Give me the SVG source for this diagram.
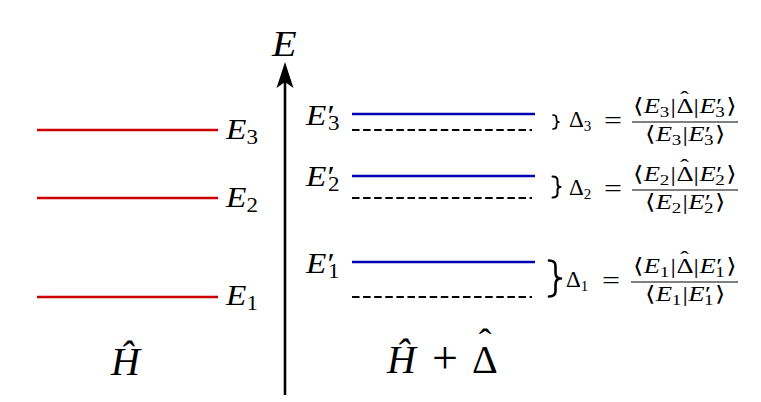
<svg xmlns="http://www.w3.org/2000/svg" width="761" height="402" viewBox="0 0 761 402">
<style>
text{font-family:"Liberation Serif","DejaVu Serif",serif;fill:#000}
.i{font-style:italic}
.big{font-size:29px}
.sb{font-size:20px}
.f{font-size:21px}
.d{font-size:23px}
.s{font-size:15px}
.eq{font-size:24px}
.hat{font-size:21px;text-anchor:middle}
.red{stroke:#cc0000;stroke-width:2.6;fill:none}
.blue{stroke:#0000b4;stroke-width:2.6;fill:none}
.dash{stroke:#000;stroke-width:1.8;stroke-dasharray:7.5 3.6;fill:none}
.bar{stroke:#000;stroke-width:1}
.brace{fill:none;stroke:#000;stroke-linecap:round;stroke-linejoin:round}
</style>
<rect width="761" height="402" fill="#fff"/>
<g id="connectors">
<line x1="285" y1="395" x2="285" y2="78" stroke="#000" stroke-width="2.6"/>
<path d="M285,62 L293.5,88 L285,82 L276.5,88 Z" fill="#000"/>
</g>
<g id="axis-label"><text class="i" transform="translate(272,56) scale(1.12,1)" font-size="36">E</text></g>
<g id="H-levels">
<g id="E3"><line class="red" x1="37" y1="130" x2="218" y2="130"/><text class="big" transform="translate(226,139) scale(1.15,1)"><tspan class="i">E</tspan><tspan class="sb" dy="5">3</tspan></text></g>
<g id="E2"><line class="red" x1="37" y1="198" x2="218" y2="198"/><text class="big" transform="translate(226,207) scale(1.15,1)"><tspan class="i">E</tspan><tspan class="sb" dy="5">2</tspan></text></g>
<g id="E1"><line class="red" x1="37" y1="297" x2="218" y2="297"/><text class="big" transform="translate(226,305) scale(1.15,1)"><tspan class="i">E</tspan><tspan class="sb" dy="5">1</tspan></text></g>
<g id="H-label"><text class="i" x="111" y="375" font-size="40">Ĥ</text></g>
</g>
<g id="HD-levels">
<g id="Ep3"><line class="blue" x1="352" y1="114" x2="535" y2="114"/><line class="dash" x1="352" y1="130" x2="532" y2="130"/><text class="big" transform="translate(306,125) scale(1.15,1)"><tspan class="i">E</tspan><tspan dx="1">′</tspan><tspan class="sb" dx="-6" dy="5">3</tspan></text></g>
<g id="Ep2"><line class="blue" x1="352" y1="176" x2="535" y2="176"/><line class="dash" x1="352" y1="198" x2="532" y2="198"/><text class="big" transform="translate(306,186) scale(1.15,1)"><tspan class="i">E</tspan><tspan dx="1">′</tspan><tspan class="sb" dx="-6" dy="5">2</tspan></text></g>
<g id="Ep1"><line class="blue" x1="352" y1="262" x2="535" y2="262"/><line class="dash" x1="352" y1="297" x2="532" y2="297"/><text class="big" transform="translate(306,273) scale(1.15,1)"><tspan class="i">E</tspan><tspan dx="1">′</tspan><tspan class="sb" dx="-6" dy="5">1</tspan></text></g>
<g id="HD-label">
<text class="i" x="387" y="373" font-size="40">Ĥ</text>
<text x="432" y="373" font-size="46">+</text>
<text x="472" y="373" font-size="40">Δ</text>
<text x="485" y="355" font-size="38" text-anchor="middle">ˆ</text>
</g>
</g>
<g id="delta3">
<path class="brace" stroke-width="1.7" d="M553,115 q3.5,0 3.5,3 v1.5 q0,2.5 2.5,2.5 q-2.5,0 -2.5,2.5 v1.5 q0,3 -3.5,3"/>
<text class="d" x="569" y="127">Δ<tspan class="s" dy="4">3</tspan></text>
<text class="eq" x="604" y="128" textLength="18" lengthAdjust="spacingAndGlyphs">=</text>
<line class="bar" x1="632" y1="122" x2="738" y2="122"/>
<g transform="translate(633,113) scale(1.27,1)">
<text class="f" y="0"><tspan x="0">⟨</tspan><tspan class="i" x="8.5">E</tspan><tspan class="s" x="21" dy="4">3</tspan><tspan x="29.5" dy="-4">|</tspan><tspan x="34.2">Δ</tspan><tspan x="47.6">|</tspan><tspan class="i" x="52.3">E</tspan><tspan x="65.5">′</tspan><tspan class="s" x="64.8" dy="4">3</tspan><tspan x="73.5" dy="-4">⟩</tspan></text>
<text class="hat" x="40.6" y="-7">ˆ</text>
</g>
<g transform="translate(645,141) scale(1.27,1)">
<text class="f" y="0"><tspan x="0">⟨</tspan><tspan class="i" x="8.5">E</tspan><tspan class="s" x="21" dy="4">3</tspan><tspan x="29.5" dy="-4">|</tspan><tspan class="i" x="34">E</tspan><tspan x="47.2">′</tspan><tspan class="s" x="46.5" dy="4">3</tspan><tspan x="55.2" dy="-4">⟩</tspan></text>
</g>
</g>
<g id="delta2">
<path class="brace" stroke-width="2" d="M552.5,176.5 q5,0 5,4 v3.5 q0,3 3,3 q-3,0 -3,3 v3.5 q0,4 -5,4"/>
<text class="d" x="569" y="195">Δ<tspan class="s" dy="4">2</tspan></text>
<text class="eq" x="604" y="196" textLength="18" lengthAdjust="spacingAndGlyphs">=</text>
<line class="bar" x1="632" y1="190" x2="738" y2="190"/>
<g transform="translate(633,181) scale(1.27,1)">
<text class="f" y="0"><tspan x="0">⟨</tspan><tspan class="i" x="8.5">E</tspan><tspan class="s" x="21" dy="4">2</tspan><tspan x="29.5" dy="-4">|</tspan><tspan x="34.2">Δ</tspan><tspan x="47.6">|</tspan><tspan class="i" x="52.3">E</tspan><tspan x="65.5">′</tspan><tspan class="s" x="64.8" dy="4">2</tspan><tspan x="73.5" dy="-4">⟩</tspan></text>
<text class="hat" x="40.6" y="-7">ˆ</text>
</g>
<g transform="translate(645,209) scale(1.27,1)">
<text class="f" y="0"><tspan x="0">⟨</tspan><tspan class="i" x="8.5">E</tspan><tspan class="s" x="21" dy="4">2</tspan><tspan x="29.5" dy="-4">|</tspan><tspan class="i" x="34">E</tspan><tspan x="47.2">′</tspan><tspan class="s" x="46.5" dy="4">2</tspan><tspan x="55.2" dy="-4">⟩</tspan></text>
</g>
</g>
<g id="delta1">
<path class="brace" stroke-width="2.6" d="M549,260.5 q6.5,0 6.5,5.5 v6.5 q0,6 5.5,6 q-5.5,0 -5.5,6 v6.5 q0,5.5 -6.5,5.5"/>
<text class="d" x="566" y="287">Δ<tspan class="s" dy="4">1</tspan></text>
<text class="eq" x="602" y="288" textLength="18" lengthAdjust="spacingAndGlyphs">=</text>
<line class="bar" x1="631" y1="282" x2="738" y2="282"/>
<g transform="translate(633,273) scale(1.27,1)">
<text class="f" y="0"><tspan x="0">⟨</tspan><tspan class="i" x="8.5">E</tspan><tspan class="s" x="21" dy="4">1</tspan><tspan x="29.5" dy="-4">|</tspan><tspan x="34.2">Δ</tspan><tspan x="47.6">|</tspan><tspan class="i" x="52.3">E</tspan><tspan x="65.5">′</tspan><tspan class="s" x="64.8" dy="4">1</tspan><tspan x="73.5" dy="-4">⟩</tspan></text>
<text class="hat" x="40.6" y="-7">ˆ</text>
</g>
<g transform="translate(645,301) scale(1.27,1)">
<text class="f" y="0"><tspan x="0">⟨</tspan><tspan class="i" x="8.5">E</tspan><tspan class="s" x="21" dy="4">1</tspan><tspan x="29.5" dy="-4">|</tspan><tspan class="i" x="34">E</tspan><tspan x="47.2">′</tspan><tspan class="s" x="46.5" dy="4">1</tspan><tspan x="55.2" dy="-4">⟩</tspan></text>
</g>
</g>
</svg>
